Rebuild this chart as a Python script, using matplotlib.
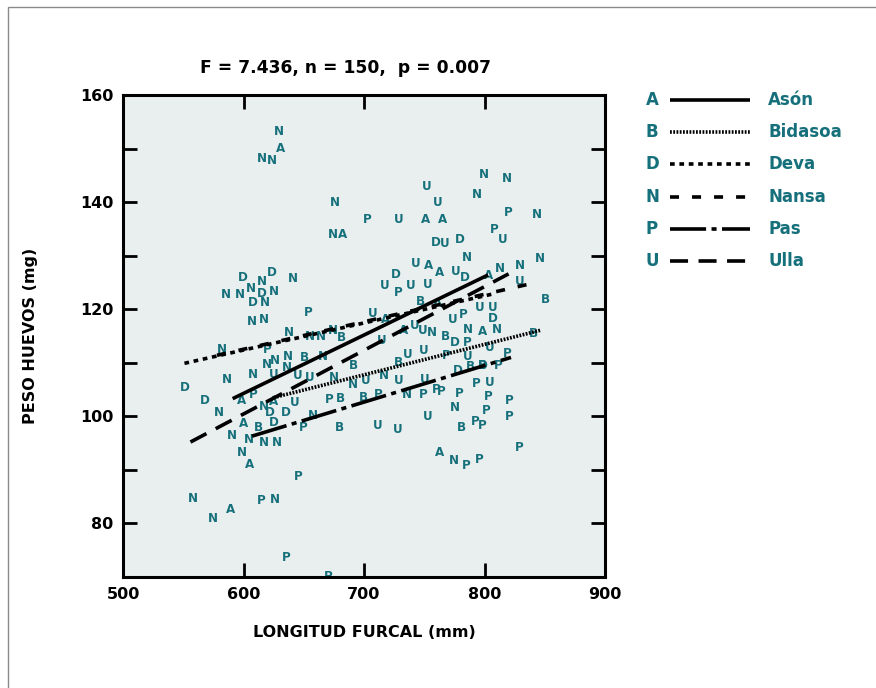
import matplotlib
matplotlib.use("Agg")
import matplotlib.pyplot as plt
from matplotlib.lines import Line2D
from matplotlib.patches import Rectangle

plt.rcParams['font.family'] = ['DejaVu Sans']

TEAL = '#16707b'
BG = '#e9eeee'

# ---- data: fork length (mm) and egg weight (mg) per river ----
ason_x = [631, 682.5, 751, 765, 753.5, 763, 717.5, 732.6, 761, 798, 803, 598.5, 625, 599.8, 605.3, 589.6, 762.7]
ason_y = [150.0, 134.0, 136.7, 136.7, 128.1, 126.8, 118.1, 116.1, 121.0, 115.8, 126.3, 102.9, 102.8, 98.6, 91.0, 82.6, 93.2]

bidasoa_x = [850.5, 840.5, 681, 650.8, 680.1, 612, 680, 691.1, 728.5, 767.2, 788.5, 798.5, 699.4, 781, 746.5]
bidasoa_y = [121.8, 115.4, 114.8, 110.9, 103.3, 97.9, 97.9, 109.4, 110.0, 115.0, 109.3, 109.4, 103.5, 98.0, 121.5]

deva_x = [599.3, 623.6, 615.4, 608.1, 550.9, 568.3, 622, 634.7, 624.8, 759.6, 779.6, 726, 784, 807, 775, 777.7, 799]
deva_y = [126.0, 126.8, 123.0, 121.2, 105.4, 103.0, 100.7, 100.7, 98.9, 132.4, 133.0, 126.4, 126.0, 118.3, 113.8, 108.5, 109.5]

nansa_x = [629.7, 615.1, 623.4, 676.2, 674.5, 799.8, 818.4, 793.5, 843.8, 785.3, 846.1, 812.9, 829.5,
           615.6, 641.3, 585.5, 597.1, 606, 625.6, 617.6, 606.8, 617.3, 638, 655.2, 664.1, 674.5,
           581.9, 619.2, 625.9, 637.2, 666.2, 635.8, 675.4, 586.6, 608.1, 617.3, 579.9, 657.4,
           590.2, 604.8, 617.3, 627.6, 598.5, 557.8, 574.9, 626.4, 786.5, 810.5, 756.2, 691,
           716.5, 735.4, 775.8, 774.4]
nansa_y = [153.1, 148.1, 147.7, 140.0, 133.9, 145.2, 144.5, 141.5, 137.7, 129.7, 129.5, 127.6, 128.2,
           125.2, 125.8, 122.7, 122.7, 123.8, 123.3, 121.2, 117.7, 118.0, 115.7, 115.0, 115.0, 116.0,
           112.5, 109.6, 110.5, 111.2, 111.1, 109.1, 107.3, 106.9, 107.9, 101.8, 100.7, 100.2,
           96.4, 95.6, 95.2, 95.2, 93.2, 84.7, 81.0, 84.4, 116.3, 116.2, 115.7, 106.0,
           107.6, 104.1, 101.6, 91.7]

pas_x = [702.5, 820, 807.9, 728.8, 653.8, 782.5, 620.1, 608.1, 671.2, 649.6, 645.5, 614.5, 635.3, 670.4,
         786, 768.5, 818.9, 811.4, 793, 803.2, 820.6, 801.2, 820.6, 798.3, 792.1, 828.9, 785.1, 795.8,
         711.9, 749.2, 759.8, 764.5, 779.1]
pas_y = [136.7, 138.1, 134.9, 123.2, 119.4, 119.1, 112.4, 104.0, 103.2, 98.0, 88.8, 84.3, 73.6, 70.1,
         113.8, 111.3, 111.7, 109.5, 106.1, 103.7, 103.0, 101.1, 99.9, 98.2, 99.1, 94.2, 90.9, 92.0,
         104.0, 104.0, 105.0, 104.6, 104.2]

ulla_x = [751.7, 760.8, 728.8, 767.2, 814.8, 742.5, 775.7, 717.1, 738.4, 752.9, 829.5, 806.8, 796.3,
          707.5, 774, 804, 714.7, 742, 748.7, 736.3, 749.2, 785.7, 624.8, 645, 655.2, 642.7, 701.4,
          728.5, 750.6, 804.6, 752.8, 711.3, 728]
ulla_y = [143.0, 140.0, 136.7, 132.3, 133.0, 128.5, 127.1, 124.5, 124.5, 124.6, 125.2, 120.3, 120.3,
          119.2, 118.1, 112.8, 114.2, 117.0, 116.1, 111.6, 112.2, 111.1, 107.9, 107.7, 107.2, 102.5, 106.7,
          106.7, 106.9, 106.3, 100.0, 98.2, 97.6]

# regression lines per river: start/end fork length and fitted egg weight
river_names = ['Asón', 'Bidasoa', 'Deva', 'Nansa', 'Pas', 'Ulla']
river_codes = ['A', 'B', 'D', 'N', 'P', 'U']
fit_x0 = [591, 625, 551, 578, 607, 556]
fit_x1 = [803, 847, 808, 845, 822, 820]
fit_y0 = [103.3, 103.5, 109.9, 111.4, 96.3, 95.2]
fit_y1 = [126.4, 116.1, 122.9, 125.1, 111.0, 126.6]

title_text = 'F = 7.436, n = 150,  p = 0.007'
x_ticks = [500, 600, 700, 800, 900]
y_ticks = [80, 100, 120, 140, 160]

# ---- line styles ----
LW = 2.6
styles = [
    dict(linestyle='-'),
    dict(linestyle=(0, (0.5, 0.4))),
    dict(linestyle=(0, (1.3, 1.3))),
    dict(linestyle=(0, (2.5, 3.6))),
    dict(linestyle=(0, (10, 1.5, 1.4, 1.5))),
    dict(linestyle=(0, (5.0, 2.9))),
]

fig = plt.figure(figsize=(8.76, 6.88), dpi=100)
fig.patch.set_facecolor('white')

# thin page frame
fig.patches.append(Rectangle((8 / 876, -0.01), 1.0, (688 - 7) / 688 + 0.01,
                             transform=fig.transFigure, fill=False,
                             edgecolor='#8a8a8a', linewidth=1.0))

ax = fig.add_axes([123 / 876, 1 - 577 / 688, (605 - 123) / 876, (577 - 95) / 688])
ax.set_facecolor(BG)
ax.set_xlim(500, 900)
ax.set_ylim(70, 160)

series = [(ason_x, ason_y), (bidasoa_x, bidasoa_y), (deva_x, deva_y),
          (nansa_x, nansa_y), (pas_x, pas_y), (ulla_x, ulla_y)]
for code, (xs, ys) in zip(river_codes, series):
    for xv, yv in zip(xs, ys):
        ax.text(xv, yv, code, color=TEAL, fontsize=8.6, fontweight='bold',
                ha='center', va='center', zorder=2, clip_on=True)

for i in range(len(river_names)):
    ax.plot([fit_x0[i], fit_x1[i]], [fit_y0[i], fit_y1[i]], color='black',
            linewidth=LW, solid_capstyle='butt', dash_capstyle='butt',
            zorder=3, **styles[i])

ax.set_xticks(x_ticks)
ax.set_yticks(y_ticks)
ax.set_yticks([90, 110, 130, 150], minor=True)
ax.tick_params(which='both', direction='in', length=10, width=2, top=True, right=True,
               labelsize=11.5, pad=7, colors='black')
for lab in ax.get_xticklabels() + ax.get_yticklabels():
    lab.set_fontweight('bold')
for sp in ax.spines.values():
    sp.set_linewidth(2.2)

ax.set_xlabel('LONGITUD FURCAL (mm)', fontsize=11.5, fontweight='bold')
ax.set_ylabel('PESO HUEVOS (mg)', fontsize=11.5, fontweight='bold')
ax.xaxis.set_label_coords((364 - 123) / 482, (577 - 625) / 482)
ax.yaxis.set_label_coords((38 - 123) / 482, 0.5)

fig.text(346 / 876, 1 - 68 / 688, title_text, fontsize=12.3, fontweight='bold',
         ha='center', va='center')

# legend outside the axes
row_y = [100, 132, 164, 197, 229, 261]
for i in range(len(river_names)):
    yf = 1 - row_y[i] / 688
    fig.text(652 / 876, yf, river_codes[i], color=TEAL, fontsize=12,
             fontweight='bold', ha='center', va='center')
    fig.add_artist(Line2D([670 / 876, 750 / 876], [yf, yf], transform=fig.transFigure,
                          color='black', linewidth=LW, solid_capstyle='butt',
                          dash_capstyle='butt', **styles[i]))
    fig.text(768 / 876, yf, river_names[i], color=TEAL, fontsize=12,
             fontweight='bold', ha='left', va='center')

fig.savefig('out.png', dpi=100)
